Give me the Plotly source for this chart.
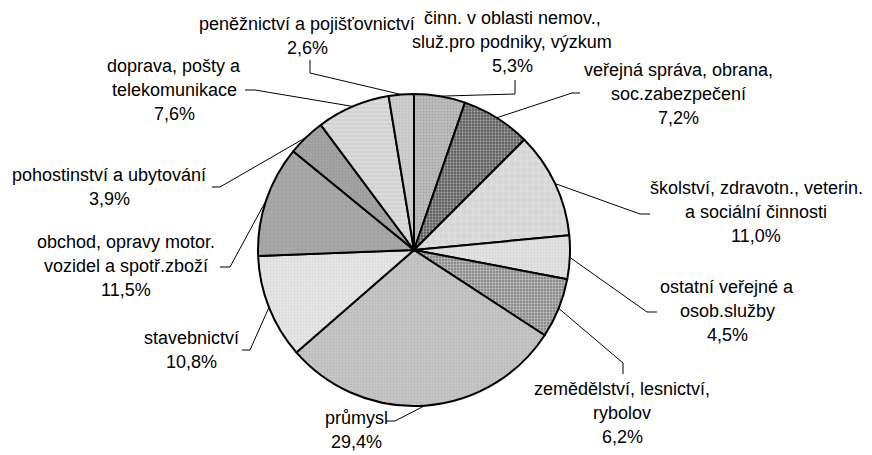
import math
import plotly.graph_objects as go

# ---- data ----
sectors = [
    "činn. v oblasti nemov.,<br>služ.pro podniky, výzkum",
    "veřejná správa, obrana,<br>soc.zabezpečení",
    "školství, zdravotn., veterin.<br>a sociální činnosti",
    "ostatní veřejné a<br>osob.služby",
    "zemědělství, lesnictví,<br>rybolov",
    "průmysl",
    "stavebnictví",
    "obchod, opravy motor.<br>vozidel a spotř.zboží",
    "pohostinství a ubytování",
    "doprava, pošty a<br>telekomunikace",
    "peněžnictví a pojišťovnictví",
]
shares = [5.3, 7.2, 11.0, 4.5, 6.2, 29.4, 10.8, 11.5, 3.9, 7.6, 2.6]

# ---- styling ----
W, H = 872, 455          # browser window (screen pixels)
OFF = 8                  # default page body margin
FW, FH = W - OFF, H - OFF   # figure size (right/bottom overflow is clipped by window)
CX, CY, R = 414, 250, 156
FONT = "Liberation Sans, Arial, sans-serif"
FS = 18
LINE_GAP = 24

colors = ["#bdbdbd", "#555555", "#d6d6d6", "#e2e2e2", "#8c8c8c", "#c6c6c6",
          "#e6e6e6", "#aaaaaa", "#a4a4a4", "#d2d2d2", "#cfcfcf"]
p_shape = [".", ".", "+", ".", "+", ".", ".", "+", ".", "-", "."]
p_fg = ["#8f8f8f", "#f4f4f4", "#ffffff", "#c4c4c4", "#ffffff", "#a8a8a8",
        "#cacaca", "#8a8a8a", "#888888", "#f0f0f0", "#b0b0b0"]
p_size = [3, 3, 6, 3, 3, 3, 3, 4, 3, 4, 3]
p_sol = [0.3, 0.45, 0.15, 0.3, 0.35, 0.3, 0.3, 0.3, 0.3, 0.3, 0.3]

# label layout (screen pixels): center x, first line y, elbow point, end point
lab_x = [512, 678, 756, 727, 622, 356, 191, 126, 109, 174, 307]
lab_y = [18, 70, 188, 287, 389, 418, 338, 242, 175, 66, 24]
elbow = [(515, 94), (572, 93), (640, 214), (647, 312), (623, 363), (395, 421),
         (250, 350), (230, 267), (220, 187), (255, 90), (310, 73)]
endpt = [(515, 80), (580, 93), (650, 214), (657, 312), (623, 374), (386, 421),
         (242, 350), (220, 267), (212, 187), (245, 90), (310, 60)]


def px(x):
    return (x - OFF) / FW


def py(y):
    return 1 - (y - OFF) / FH


fig = go.Figure(go.Pie(
    labels=[s.replace("<br>", " ") for s in sectors],
    values=shares,
    sort=False,
    direction="clockwise",
    rotation=0,
    textinfo="none",
    hoverinfo="label+percent",
    showlegend=False,
    marker=dict(
        colors=colors,
        line=dict(color="#000000", width=2),
        pattern=dict(shape=p_shape, fgcolor=p_fg, size=p_size,
                     solidity=p_sol, fillmode="overlay"),
    ),
    domain=dict(x=[px(CX - R), px(CX + R)], y=[py(CY + R), py(CY - R)]),
))

annotations = []
shapes = []
total = sum(shares)
cum = 0.0
for i, (name, v) in enumerate(zip(sectors, shares)):
    mid = (cum + v / 2) / total * 2 * math.pi
    cum += v
    ex = CX + R * math.sin(mid)
    ey = CY - R * math.cos(mid)
    lines = name.split("<br>") + [f"{v:.1f}".replace(".", ",") + "%"]
    for k, t in enumerate(lines):
        annotations.append(dict(
            x=px(lab_x[i]), y=py(lab_y[i] + k * LINE_GAP), xref="paper", yref="paper",
            text=t, showarrow=False, xanchor="center", yanchor="middle",
            font=dict(family=FONT, size=FS, color="#000000"),
        ))
    (bx, by), (qx, qy) = elbow[i], endpt[i]
    shapes.append(dict(
        type="path", xref="paper", yref="paper",
        path=f"M {px(qx)} {py(qy)} L {px(bx)} {py(by)} L {px(ex)} {py(ey)}",
        line=dict(color="#000000", width=1),
    ))

fig.update_layout(
    width=FW, height=FH,
    margin=dict(l=0, r=0, t=0, b=0),
    paper_bgcolor="#ffffff",
    plot_bgcolor="#ffffff",
    annotations=annotations,
    shapes=shapes,
)

fig.write_html("out.html")
